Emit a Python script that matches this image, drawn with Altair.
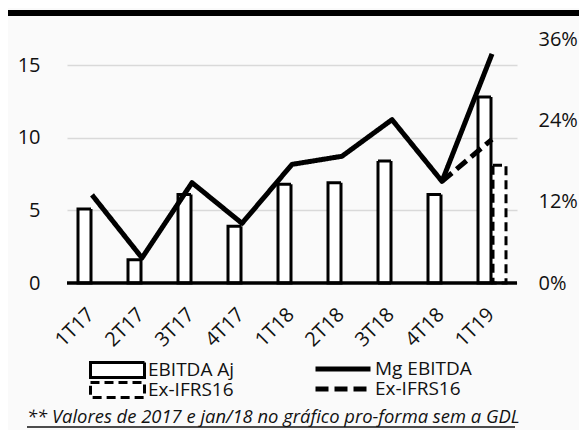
import altair as alt
import pandas as pd

# ---- data ----
quarters = ["1T17", "2T17", "3T17", "4T17", "1T18", "2T18", "3T18", "4T18", "1T19"]
ebitda_aj = [5.1, 1.6, 6.1, 3.9, 6.8, 6.9, 8.4, 6.1, 12.8]
mg_ebitda = [0.130, 0.037, 0.148, 0.088, 0.175, 0.187, 0.241, 0.150, 0.338]
ex_bar_quarters = ["1T19"]
ex_ifrs_bar = [8.1]
ex_mg_quarters = ["4T18", "1T19"]
ex_ifrs_mg = [0.150, 0.212]
left_ticks = [0, 5, 10, 15]
right_ticks = [0, 0.12, 0.24, 0.36]
bar_series = ["EBITDA Aj", "Ex-IFRS16"]
line_series = ["Mg EBITDA", "Ex-IFRS16 "]
footnote = "** Valores de 2017 e jan/18 no gráfico pro-forma sem a GDL"

FONT = "Open Sans"
W, H = 450, 244

bars_df = pd.DataFrame({
    "q": quarters + ex_bar_quarters,
    "v": ebitda_aj + ex_ifrs_bar,
    "s": [bar_series[0]] * len(quarters) + [bar_series[1]] * len(ex_bar_quarters),
})
lines_df = pd.DataFrame({
    "q": quarters + ex_mg_quarters,
    "v": mg_ebitda + ex_ifrs_mg,
    "s": [line_series[0]] * len(quarters) + [line_series[1]] * len(ex_mg_quarters),
})

x_enc = alt.X(
    "q:N", sort=quarters, title=None,
    scale=alt.Scale(paddingInner=0, paddingOuter=0),
    axis=alt.Axis(labelAngle=-45, labelAlign="right", labelBaseline="top",
                  labelPadding=21, labelOffset=-8, labelFontSize=20, labelFont=FONT,
                  labelColor="#111111", domain=False, ticks=False, grid=False),
)
y_left = alt.Y(
    "v:Q", title=None,
    scale=alt.Scale(domain=[0, 16.8], nice=False),
    axis=alt.Axis(values=left_ticks, grid=True, gridColor="#d9d9d9", gridWidth=1.5,
                  domain=False, ticks=False, labelFontSize=20, labelFont=FONT,
                  labelColor="#111111", labelPadding=27),
)
y_right = alt.Y(
    "v:Q", title=None,
    scale=alt.Scale(domain=[0, 0.36], nice=False),
    axis=alt.Axis(orient="right", values=right_ticks, format=".0%", grid=False,
                  domain=False, ticks=False, labelFontSize=20, labelFont=FONT,
                  labelColor="#111111", labelPadding=21),
)

bar_legend = alt.Legend(
    orient="none", legendX=22, legendY=322, title=None,
    symbolType="M-1,-0.28H1V0.28H-1Z", symbolSize=2916,
    symbolStrokeWidth=3, symbolFillColor="white",
    labelFontSize=19, labelFont=FONT, labelColor="#111111", labelOffset=2,
    clipHeight=18, rowPadding=1, padding=0,
)
bar_dash = alt.StrokeDash(
    "s:N", scale=alt.Scale(domain=bar_series, range=[[1, 0], [9, 5]]), legend=bar_legend
)
bar_stroke = alt.Stroke(
    "s:N", scale=alt.Scale(domain=bar_series, range=["black", "black"]), legend=bar_legend
)
line_dash = alt.StrokeDash(
    "s:N",
    scale=alt.Scale(domain=line_series, range=[[1, 0], [13, 6]]),
    legend=alt.Legend(orient="none", legendX=246, legendY=321, title=None,
                      symbolType="stroke", symbolSize=3025, symbolStrokeWidth=5,
                      symbolStrokeColor="black", labelFontSize=19, labelFont=FONT,
                      labelColor="#111111", labelOffset=2, clipHeight=18,
                      rowPadding=1, padding=0),
)

base_bar = alt.Chart(bars_df)
bar1 = base_bar.transform_filter(alt.datum.s == bar_series[0]).mark_bar(
    fill="white", strokeWidth=3, width=13, xOffset=-7.5
).encode(x=x_enc, y=y_left, strokeDash=bar_dash, stroke=bar_stroke)
bar2 = base_bar.transform_filter(alt.datum.s == bar_series[1]).mark_bar(
    fill="white", strokeWidth=3, width=13, xOffset=7.5
).encode(x=x_enc, y=y_left, strokeDash=bar_dash, stroke=bar_stroke)
zero = alt.Chart(pd.DataFrame({"z": [0]})).mark_rule(color="black", strokeWidth=3.5).encode(
    y=alt.Y("z:Q"), x=alt.value(0), x2=alt.value(W)
)
bars_layer = alt.layer(bar1, bar2, zero)

base_line = alt.Chart(lines_df)
line_ex = base_line.transform_filter(alt.datum.s == line_series[1]).mark_line(
    color="black", strokeWidth=5, strokeJoin="round"
).encode(x=x_enc, y=y_right, strokeDash=line_dash)
line_mg = base_line.transform_filter(alt.datum.s == line_series[0]).mark_line(
    color="black", strokeWidth=5, strokeJoin="round"
).encode(x=x_enc, y=y_right, strokeDash=line_dash)
lines_layer = alt.layer(line_ex, line_mg)

one = pd.DataFrame({"t": [footnote]})
top_rule = alt.Chart(one).mark_rule(color="black", strokeWidth=6).encode(
    x=alt.value(-60), x2=alt.value(512), y=alt.value(-26)
)
note = alt.Chart(one).mark_text(
    font=FONT, fontSize=18.4, fontStyle="italic", align="left", baseline="alphabetic",
    color="#111111"
).encode(text="t:N", x=alt.value(-40), y=alt.value(384))
underline = alt.Chart(one).mark_rule(color="#111111", strokeWidth=1.5).encode(
    x=alt.value(-40), x2=alt.value(448), y=alt.value(388)
)

chart = alt.layer(bars_layer, lines_layer, top_rule, note, underline).resolve_scale(
    y="independent", strokeDash="independent", stroke="independent"
).properties(
    width=W, height=H,
    padding={"left": 59, "top": 31, "right": 62, "bottom": 150},
    autosize=alt.AutoSizeParams(type="none"),
    background="#fafafa",
).configure_view(stroke=None)

chart.save("out.html", embed_options={"renderer": "svg", "actions": False})
